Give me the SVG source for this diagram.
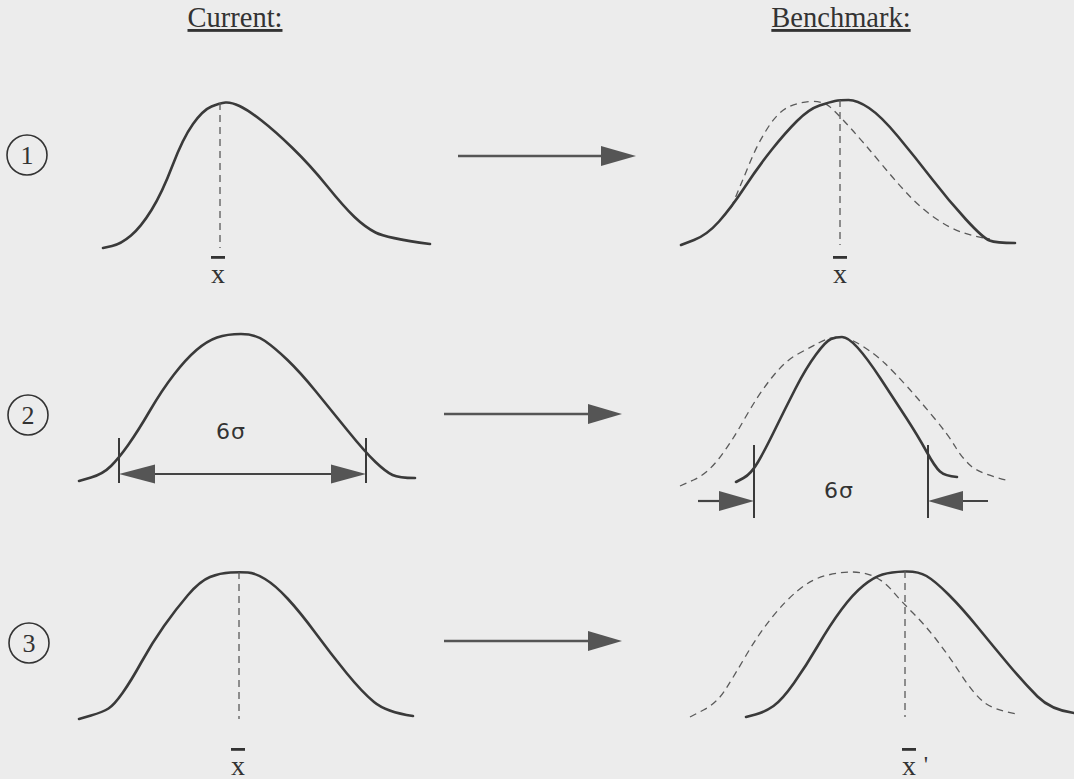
<svg xmlns="http://www.w3.org/2000/svg" width="1074" height="779" viewBox="0 0 1074 779">
<defs>
<style>
.bg{fill:#ececec}
.curve{fill:none;stroke:#3a3a3a;stroke-width:2.6;stroke-linejoin:round;stroke-linecap:round}
.dash{fill:none;stroke:#5a5a5a;stroke-width:1.3;stroke-dasharray:7 5}
.tick{stroke:#3a3a3a;stroke-width:2}
.dim{stroke:#444;stroke-width:2.2}
.head{fill:#555}
.title{font-family:"Liberation Serif",serif;font-size:28.5px;fill:#333;text-anchor:middle;text-decoration:underline}
.num{font-family:"Liberation Serif",serif;font-size:26px;fill:#333;text-anchor:middle}
.ring{fill:none;stroke:#333;stroke-width:1.6}
.xbar{font-family:"Liberation Serif",serif;font-size:28px;fill:#333;text-anchor:middle;text-decoration:overline}
.sig{font-family:"DejaVu Sans",sans-serif;font-size:22px;fill:#333;text-anchor:middle;letter-spacing:1px}
.conn{stroke:#555;stroke-width:2.6}
</style>
</defs>
<rect class="bg" x="0" y="0" width="1074" height="779"/>

<g id="headers">
<text class="title" x="235" y="27">Current:</text>
<text class="title" x="841" y="27">Benchmark:</text>
</g>

<g id="row1-label">
<circle class="ring" cx="27" cy="155" r="20"/>
<text class="num" x="27" y="164">1</text>
</g>

<g id="row1-current">
<path class="curve" d="M103,248 L112,246 Q121,244 131,235.5 Q141,227 151.5,210 Q162,193 172.5,165.5 Q183,138 193,124 Q203,110 211.5,106.5 Q220,103 225.5,102.5 Q231,102 239.5,106 Q248,110 261.5,120.5 Q275,131 292.5,148 Q310,165 327,186 Q344,207 354.5,217 Q365,227 375.5,232.5 Q386,238 430,244"/>
<line class="dash" x1="220" y1="103" x2="220" y2="248"/>
<text class="xbar" x="218" y="283">x</text>
</g>

<g id="row1-benchmark">
<path class="dash" d="M731,208 L737.5,192.5 Q744,177 751,160 Q758,143 768,127.5 Q778,112 788.5,107 Q799,102 811,101.5 Q823,101 829.5,106.5 Q836,112 850,127.5 Q864,143 881,163.5 Q898,184 909.5,196 Q921,208 935,218 Q949,228 962.5,232.5 Q976,237 990,239"/>
<path class="curve" d="M681,245 L694,240 Q707,235 719,221.5 Q731,208 744.5,187.5 Q758,167 771.5,150 Q785,133 797,121 Q809,109 819.5,105.5 Q830,102 835,101 Q840,100 848.5,100 Q857,100 869,108 Q881,116 898,136.5 Q915,157 932,179 Q949,201 966,219.5 Q983,238 989.5,240.5 Q996,243 1015,243"/>
<line class="dash" x1="840" y1="100" x2="840" y2="245"/>
<text class="xbar" x="840" y="283">x</text>
</g>

<g id="row2-label">
<circle class="ring" cx="28" cy="415" r="20"/>
<text class="num" x="28" y="424">2</text>
</g>

<g id="row2-current">
<path class="curve" d="M79,481 L91,477.5 Q103,474 111,466 Q119,458 128.5,444.5 Q138,431 150,410.5 Q162,390 174,374.5 Q186,359 196.5,350 Q207,341 217,337.5 Q227,334 241,334 Q255,334 265,341 Q275,348 287.5,360 Q300,372 315.5,391 Q331,410 348,431 Q365,452 375.5,462 Q386,472 392.5,475 Q399,478 415,478"/>
<line class="tick" x1="119" y1="438" x2="119" y2="483"/>
<line class="tick" x1="366" y1="438" x2="366" y2="483"/>
<line class="dim" x1="150" y1="474" x2="335" y2="474"/>
<polygon class="head" points="119,474 155,464.5 155,483.5"/>
<polygon class="head" points="366,474 331,464.5 331,483.5"/>
<text class="sig" x="231" y="439">6σ</text>
</g>

<g id="row2-benchmark">
<path class="dash" d="M680,486 L693.5,480 Q707,474 719,458.5 Q731,443 744.5,419 Q758,395 771.5,378 Q785,361 797,354.5 Q809,348 819.5,342.5 Q830,337 839,337 Q848,337 861.5,345.5 Q875,354 884.5,363 Q894,372 907.5,387 Q921,402 935,419 Q949,436 955.5,447 Q962,458 971,466 Q980,474 1010,481"/>
<path class="curve" d="M736,482 L743.5,478 Q751,474 758,462 Q765,450 775,429.5 Q785,409 795.5,388.5 Q806,368 816,354.5 Q826,341 831,339 Q836,337 842,337 Q848,337 857.5,347.5 Q867,358 880.5,378.5 Q894,399 906,417.5 Q918,436 926.5,451.5 Q935,467 940,471.5 Q945,476 957,477"/>
<line class="tick" x1="754" y1="445" x2="754" y2="518"/>
<line class="tick" x1="928" y1="445" x2="928" y2="518"/>
<line class="dim" x1="698" y1="501" x2="722" y2="501"/>
<polygon class="head" points="754,501 719,491 719,511"/>
<line class="dim" x1="988" y1="501" x2="950" y2="501"/>
<polygon class="head" points="928,501 963,491 963,511"/>
<text class="sig" x="839" y="498">6σ</text>
</g>

<g id="row3-label">
<circle class="ring" cx="29" cy="643" r="20"/>
<text class="num" x="29" y="652">3</text>
</g>

<g id="row3-current">
<path class="curve" d="M79,719 L91,715.5 Q103,712 108.5,708.5 Q114,705 122.5,693 Q131,681 141.5,662 Q152,643 164,626 Q176,609 188,595 Q200,581 210,577 Q220,573 230.5,572.5 Q241,572 248,572.5 Q255,573 265,579 Q275,585 287.5,598.5 Q300,612 315.5,633 Q331,654 346.5,673 Q362,692 374,702 Q386,712 413,716"/>
<line class="dash" x1="239" y1="572" x2="239" y2="719"/>
<text class="xbar" x="238" y="775">x</text>
</g>

<g id="row3-benchmark">
<path class="dash" d="M690,717 L703.5,710 Q717,703 725.5,689.5 Q734,676 746,655.5 Q758,635 771.5,618 Q785,601 798.5,590 Q812,579 826,575.5 Q840,572 852,572 Q864,572 874,576.5 Q884,581 892.5,591 Q901,601 913,613 Q925,625 937,640.5 Q949,656 961,674.5 Q973,693 983,701.5 Q993,710 1017,714"/>
<path class="curve" d="M746,717 L755.5,714.5 Q765,712 773.5,706 Q782,700 794,683 Q806,666 818,645.5 Q830,625 841.5,609.5 Q853,594 863.5,585.5 Q874,577 882.5,574.5 Q891,572 904.5,571.5 Q918,571 926.5,576 Q935,581 948.5,594.5 Q962,608 977.5,627 Q993,646 1008.5,664.5 Q1024,683 1037.5,696.5 Q1051,710 1074,713"/>
<line class="dash" x1="905" y1="571" x2="905" y2="717"/>
<text class="xbar" x="909" y="775">x</text>
<text class="num" x="926" y="772" style="font-size:24px">'</text>
</g>

<g id="connectors">
<line class="conn" x1="458" y1="156" x2="604" y2="156"/>
<polygon class="head" points="636,156 601,146 601,166"/>
<line class="conn" x1="444" y1="414" x2="591" y2="414"/>
<polygon class="head" points="622,414 588,404 588,424"/>
<line class="conn" x1="444" y1="641" x2="591" y2="641"/>
<polygon class="head" points="622,641 588,631 588,651"/>
</g>
</svg>
